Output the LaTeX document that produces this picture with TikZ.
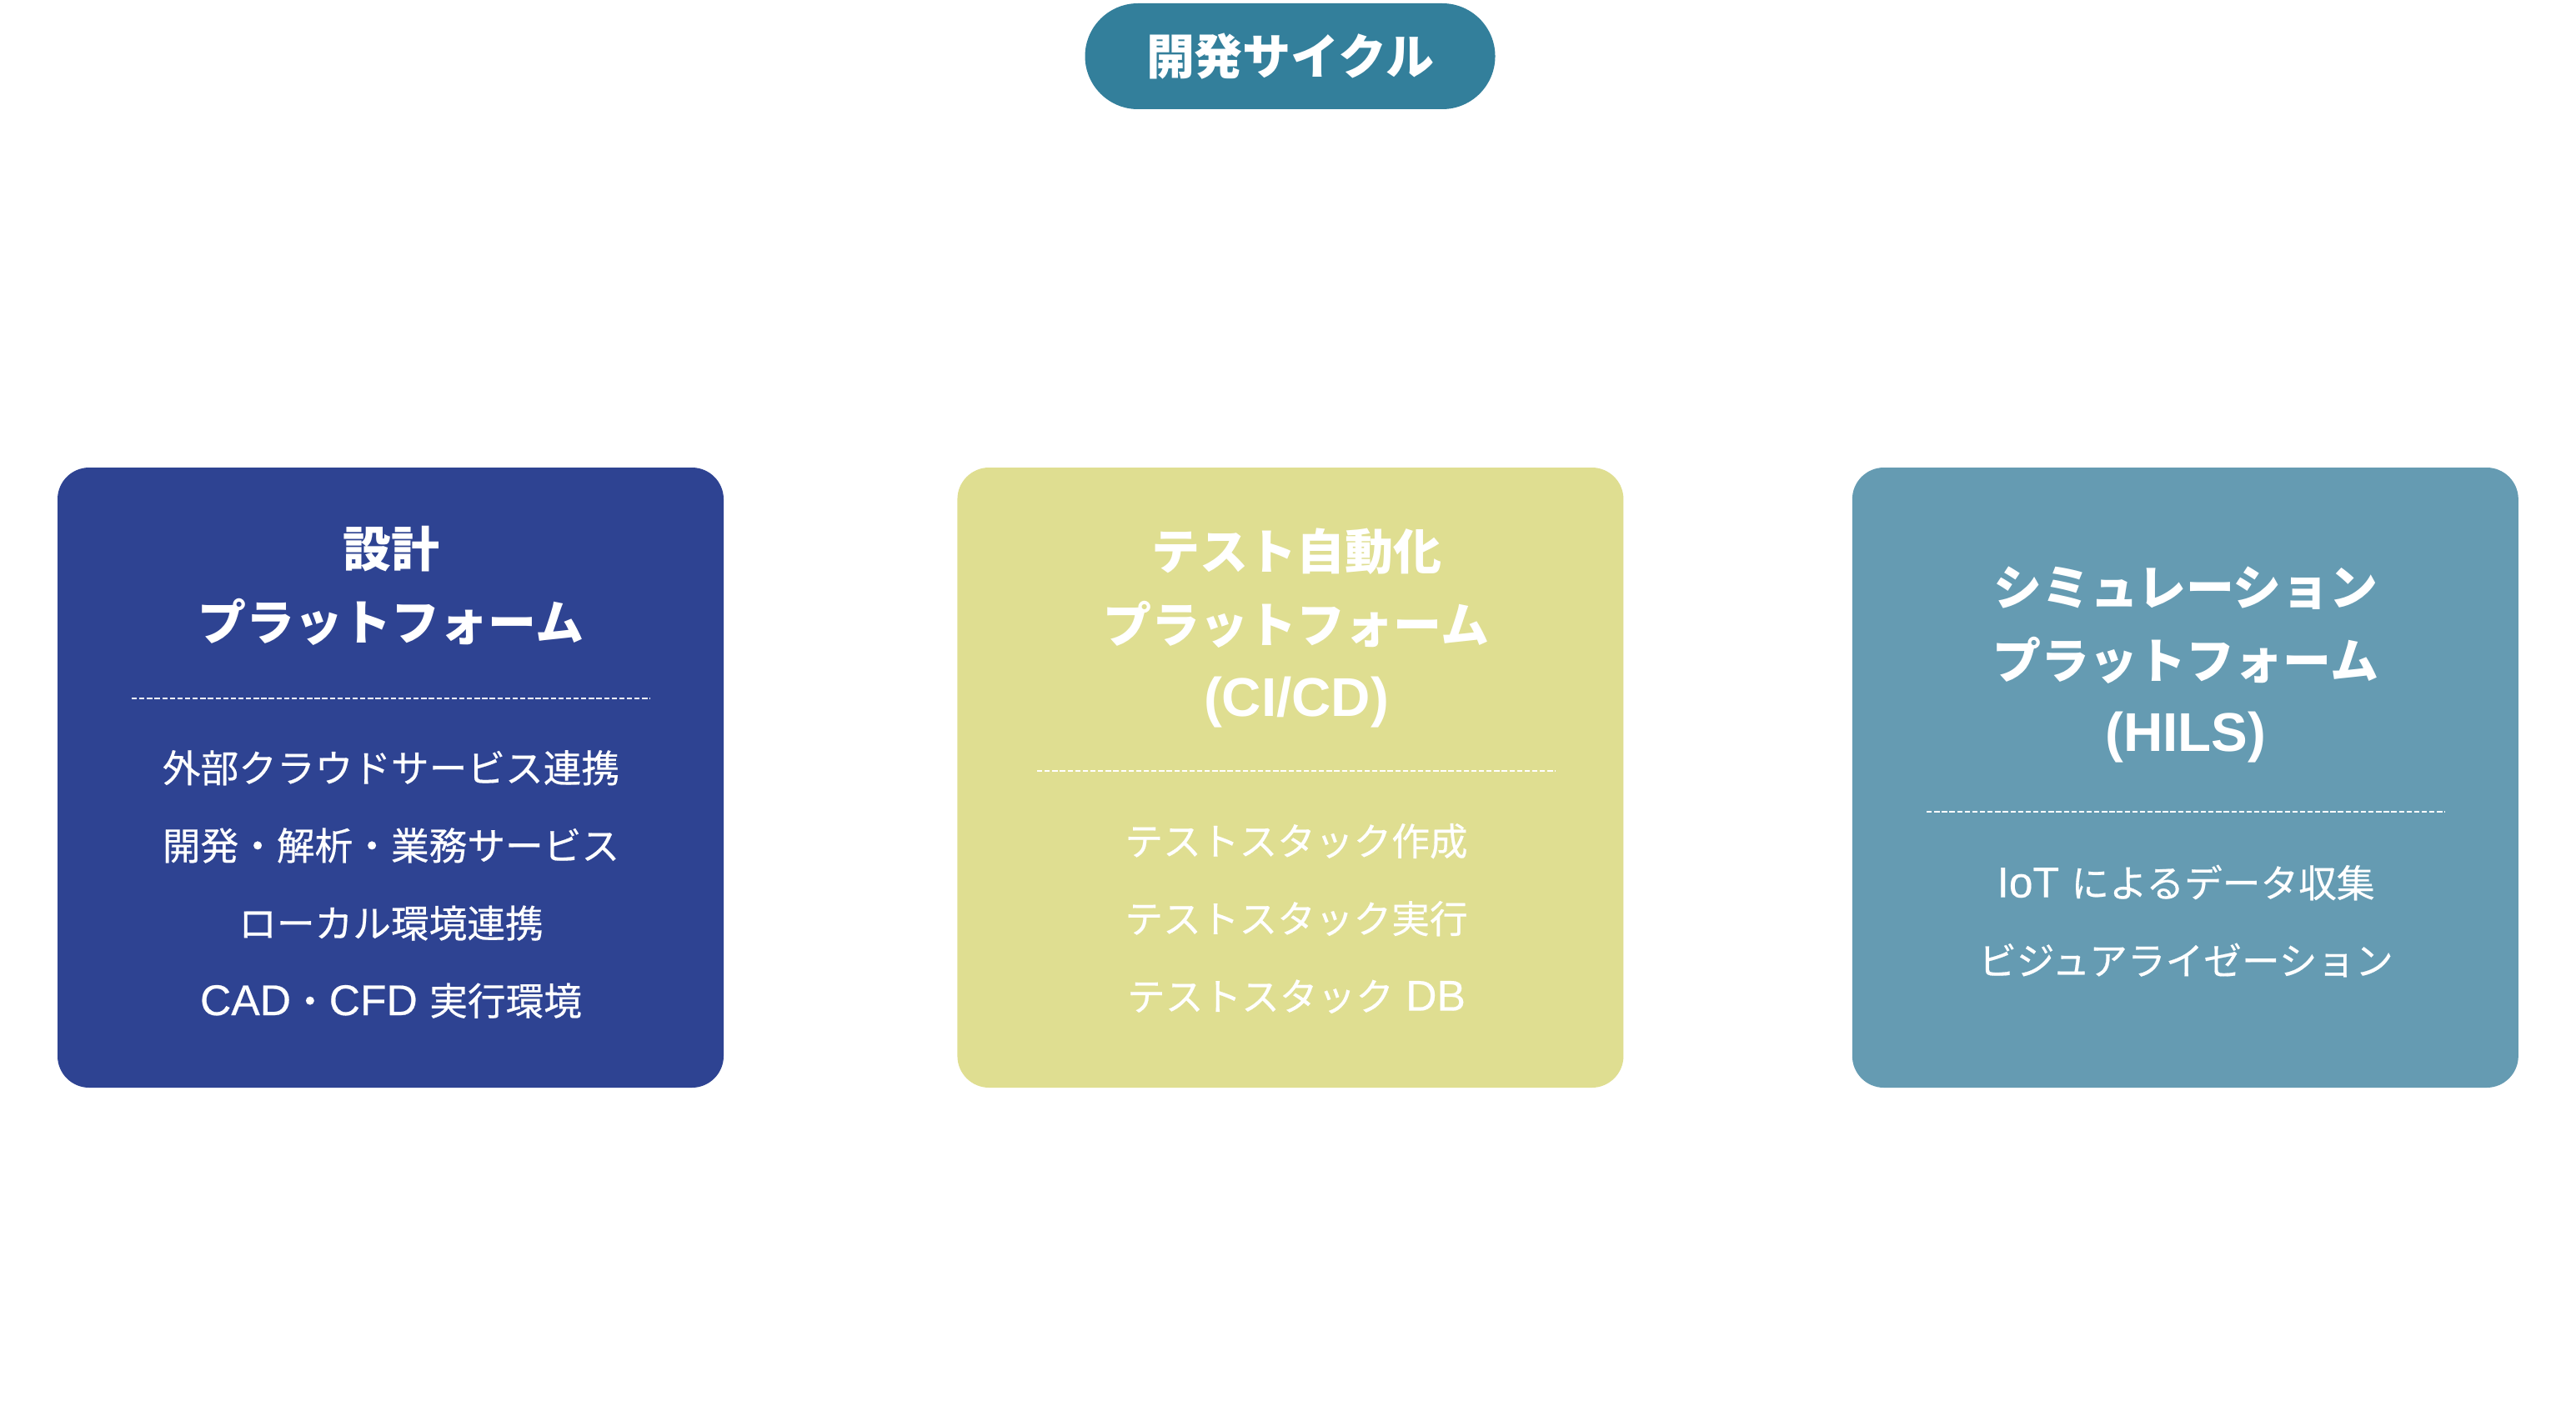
\documentclass[tikz,border=0pt]{standalone}
\usepackage{fontspec}
\setmainfont{Noto Sans CJK JP}
\newfontfamily\itemcjk{Noto Sans CJK JP}[FakeBold=0.4]
\newfontfamily\latinhead{Liberation Sans}[Scale=1.13]
\newfontfamily\latinitem{Liberation Sans}[Scale=1.13, FakeBold=0.4]
\newcommand{\hlat}[1]{{\latinhead #1}}
\newcommand{\ilat}[1]{{\latinitem #1}}
\usepackage{xcolor}
\usepackage{tikz}
\usetikzlibrary{positioning, calc, shapes.misc}

\definecolor{cycleteal}{HTML}{337F9B}
\definecolor{designblue}{HTML}{2E4392}
\definecolor{testolive}{HTML}{DFDE91}
\definecolor{simsteel}{HTML}{659BB2}

\begin{document}
\begin{tikzpicture}[
    platform/.style={rectangle, rounded corners=0.38cm, minimum width=7.99cm,
      minimum height=7.44cm, inner sep=0pt},
    headline/.style={text=white, align=center, inner sep=0pt,
      font=\fontsize{16.5}{25}\selectfont\bfseries},
    itemlist/.style={text=white, align=center, inner sep=0pt,
      font=\fontsize{13}{26.5}\selectfont\itemcjk},
    divider/.style={white, line width=0.6pt, dash pattern=on 1.8pt off 0.8pt},
    cyclepill/.style={rounded rectangle, fill=cycleteal, minimum width=4.92cm,
      minimum height=1.27cm, inner sep=0pt, text=white,
      font=\fontsize{16.5}{20}\selectfont\bfseries}
]
\useasboundingbox (0,0) rectangle (30.9,-16.86);

\node[cyclepill] (cycle) at (15.475,-0.675) {開発サイクル};

\node[platform, fill=designblue] (design) at (4.685,-9.33) {};
\node[platform, fill=testolive, right=2.79cm of design] (testing) {};
\node[platform, fill=simsteel, right=2.73cm of testing] (simulation) {};

\node[headline] (designtitle) at (4.69,-7.025) {設計\\プラットフォーム};
\draw[divider] (1.58,-8.38) -- (7.80,-8.38);
\node[itemlist] (designitems) at (4.69,-10.61)
  {外部クラウドサービス連携\\開発・解析・業務サービス\\ローカル環境連携\\\ilat{CAD}・\ilat{CFD }実行環境};

\node[headline] (testingtitle) at (15.55,-7.535) {テスト自動化\\プラットフォーム\\\hlat{(CI/CD)}};
\draw[divider] (12.44,-9.25) -- (18.66,-9.25);
\node[itemlist] (testingitems) at (15.55,-11.02)
  {テストスタック作成\\テストスタック実行\\テストスタック\ilat{ DB}};

\node[headline] (simtitle) at (26.22,-7.975) {シミュレーション\\プラットフォーム\\\hlat{(HILS)}};
\draw[divider] (23.11,-9.74) -- (29.33,-9.74);
\node[itemlist] (simitems) at (26.22,-11.05)
  {\ilat{IoT }によるデータ収集\\ビジュアライゼーション};
\end{tikzpicture}
\end{document}
